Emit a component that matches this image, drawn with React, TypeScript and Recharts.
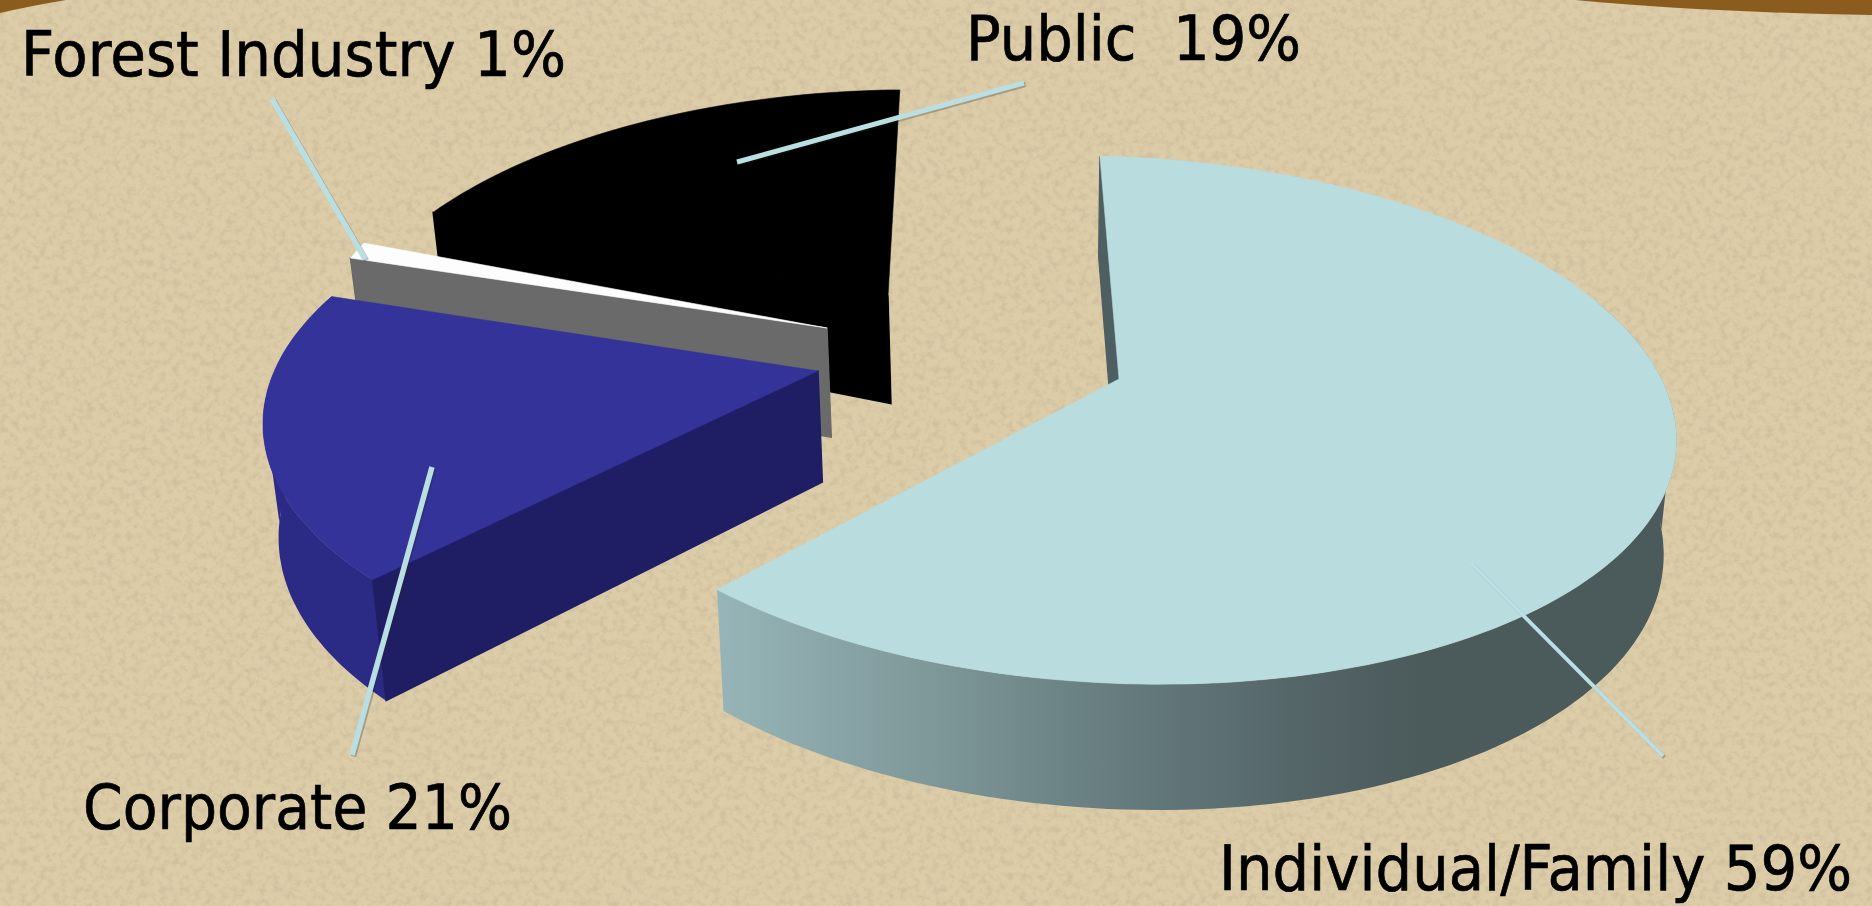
import { Pie, PieChart } from "recharts";

const WIDTH = 1872;
const HEIGHT = 906;

// Ownership shares, listed back to front so nearer slices paint last
const OWNERS = ["Public", "Forest Industry", "Corporate", "Individual/Family"];
const SHARES = [19, 1, 21, 59];
const LABEL_GAPS = ["  ", " ", " ", " "];

const TOP_COLORS = ["#000000", "#fdfdfd", "#333399", "#b9dcdf"];
const RIM_COLORS = ["#000000", "#6a6a6a", "#2b2b85", "url(#familyRim)"];
const CUT_COLORS = ["#000000", "#6a6a6a", "#1f1d63", "#4e5f62"];

// Each exploded slice sits on its own tilted ellipse. facing is the ellipse angle at
// the middle of the slice, stretch is how much the perspective widens its sweep.
const SLICE_VIEWS = [
    { hub: [888, 296], cx: 890, cy: 354, a: 555, b: 264, shearX: 0, shearY: -10, facing: 117.2, stretch: 0.825 },
    { hub: [827, 328], cx: 810, cy: 362, a: 500, b: 264, shearX: 0, shearY: 0, facing: 155, stretch: 1 },
    { hub: [818, 371], cx: 823, cy: 418, a: 560, b: 264, shearX: 0, shearY: -6, facing: 183.9, stretch: 0.862 },
    { hub: [1119, 379], cx: 1117, cy: 420, a: 559, b: 264, shearX: -22, shearY: 10, facing: 335.8, stretch: 1.0706 },
];

const LABEL_SQUEEZE = 0.9;
const LABEL_SPOTS = [
    { x: 966, y: 60, length: 335, line: [737, 162, 1024, 83], lineWidth: 5 },
    { x: 21, y: 76, length: 545, line: [272, 99, 365, 259], lineWidth: 5.5 },
    { x: 83, y: 829, length: 429, line: [432, 467, 352, 755], lineWidth: 5.5 },
    { x: 1219, y: 890, length: 633, line: [1471, 563, 1663, 756], lineWidth: 4 },
];

const pieData = OWNERS.map((name, i) => ({ name, value: SHARES[i] }));

const rad = (deg: number) => (deg * Math.PI) / 180;

// The side walls drop towards a shared vanishing point and thicken towards the viewer
const dropped = ([x, y]: number[]) => [x - 0.02 * (x - 1040), y + 101 + (y - 156) * 0.047];

const polyPath = (pts: number[][]) =>
    pts.map((p, i) => `${i ? "L" : "M"}${p[0].toFixed(1)} ${p[1].toFixed(1)}`).join(" ") + " Z";

const wallPath = (edge: number[][]) => polyPath([...edge, ...edge.map(dropped).reverse()]);

const SliceShape = (props: any) => {
    const i = OWNERS.indexOf(props.name);
    const view = SLICE_VIEWS[i];
    const mid = (props.startAngle + props.endAngle) / 2;
    const steps = Math.max(4, Math.ceil(Math.abs(props.endAngle - props.startAngle) / 1.5));

    const rim: number[][] = [];
    const frontRim: number[][] = [];
    const sideRim: number[][] = [];
    for (let s = 0; s <= steps; s++) {
        const angle = props.startAngle + ((props.endAngle - props.startAngle) * s) / steps;
        const phi = rad(view.facing + (angle - mid) * view.stretch);
        const u = Math.cos(phi);
        const v = Math.sin(phi);
        const point = [view.cx + view.a * u + view.shearX * v, view.cy + view.shearY * u - view.b * v];
        rim.push(point);
        // walls fold over at the silhouette, so the two sides of the fold are drawn apart
        if (v <= 0.1) frontRim.push(point);
        if (v >= 0.04 && v < 0.5) sideRim.push(point);
    }

    const last = rim[rim.length - 1];
    return (
        <g>
            {sideRim.length > 1 && <path d={wallPath(sideRim)} fill={RIM_COLORS[i]} />}
            {frontRim.length > 1 && <path d={wallPath(frontRim)} fill={RIM_COLORS[i]} />}
            <path
                d={polyPath([last, view.hub, dropped(view.hub), dropped(last)])}
                fill={CUT_COLORS[i]}
                stroke={CUT_COLORS[i]}
                strokeWidth={1.4}
            />
            <path d={polyPath([view.hub, ...rim])} fill={TOP_COLORS[i]} stroke={TOP_COLORS[i]} strokeWidth={0.6} />
        </g>
    );
};

const SliceLabel = (props: any) => {
    const i = OWNERS.indexOf(props.name);
    const spot = LABEL_SPOTS[i];
    const [x1, y1, x2, y2] = spot.line;
    return (
        <g>
            <line x1={x1 + 1.5} y1={y1 + 1.5} x2={x2 + 1.5} y2={y2 + 1.5} stroke="rgba(40,40,30,0.28)" strokeWidth={spot.lineWidth} />
            <line x1={x1} y1={y1} x2={x2} y2={y2} stroke="#b9dfe3" strokeWidth={spot.lineWidth} />
            <text
                transform={`translate(${spot.x} ${spot.y}) scale(${LABEL_SQUEEZE} 1)`}
                textLength={spot.length / LABEL_SQUEEZE}
                lengthAdjust="spacingAndGlyphs"
                fontFamily="DejaVu Sans"
                fontSize={63}
                fill="#000000"
                stroke="#000000"
                strokeWidth={0.7}
                style={{ whiteSpace: "pre" }}
            >
                {`${props.name}${LABEL_GAPS[i]}${props.value}%`}
            </text>
        </g>
    );
};

const PaperBackground = () => (
    <svg width={WIDTH} height={HEIGHT} style={{ position: "absolute", left: 0, top: 0 }}>
        <defs>
            <filter id="paperGrain" x="0" y="0" width="100%" height="100%">
                <feTurbulence type="fractalNoise" baseFrequency="0.15" numOctaves={4} seed={7} />
                <feColorMatrix
                    type="matrix"
                    values="0 0 0 0 0.60  0 0 0 0 0.50  0 0 0 0 0.32  2.8 0 0 0 -1.22"
                />
            </filter>
        </defs>
        <rect width={WIDTH} height={HEIGHT} fill="#dccca8" />
        <rect width={WIDTH} height={HEIGHT} filter="url(#paperGrain)" opacity={0.7} />
        <path d="M0 13 Q30 6 66 0 L0 0 Z" fill="#8a5c1e" />
        <path d="M1575 0 Q1700 12 1872 15 L1872 0 Z" fill="#8a5c1e" />
    </svg>
);

export default function App() {
    return (
        <div style={{ position: "absolute", left: 0, top: 0, width: WIDTH, height: HEIGHT }}>
            <PaperBackground />
            <div style={{ position: "absolute", left: 0, top: 0 }}>
                <PieChart width={WIDTH} height={HEIGHT} margin={{ top: 0, right: 0, bottom: 0, left: 0 }}>
                    <defs>
                        <linearGradient id="familyRim" gradientUnits="userSpaceOnUse" x1={716} y1={0} x2={1420} y2={0}>
                            <stop offset="0" stopColor="#97b5b8" />
                            <stop offset="0.31" stopColor="#7e9799" />
                            <stop offset="0.57" stopColor="#667c7f" />
                            <stop offset="0.82" stopColor="#556669" />
                            <stop offset="1" stopColor="#4b5a5b" />
                        </linearGradient>
                    </defs>
                    <Pie
                        data={pieData}
                        dataKey="value"
                        nameKey="name"
                        cx={936}
                        cy={420}
                        outerRadius={400}
                        startAngle={92}
                        endAngle={452}
                        stroke="none"
                        shape={SliceShape}
                        label={SliceLabel}
                        labelLine={false}
                        isAnimationActive={false}
                    />
                </PieChart>
            </div>
        </div>
    );
}
